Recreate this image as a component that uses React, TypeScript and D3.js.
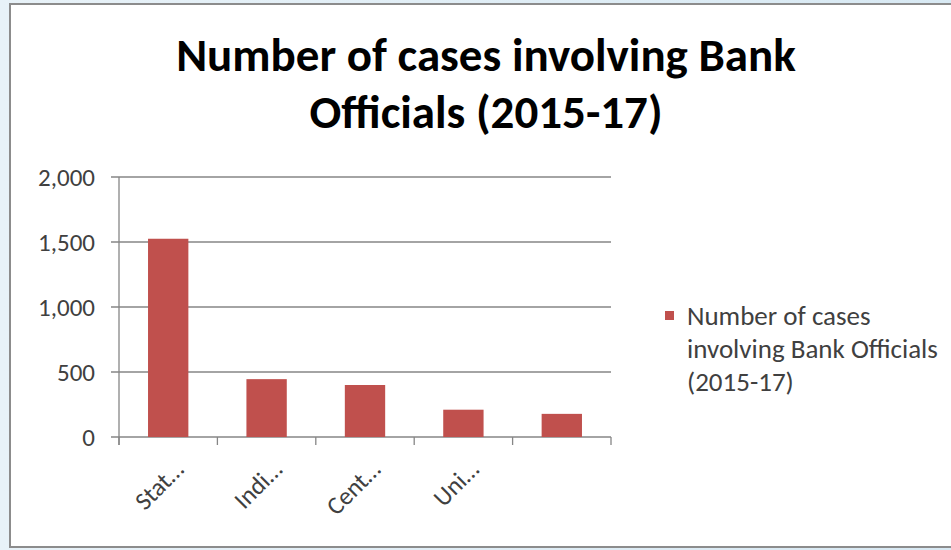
import React from "react";
import * as d3 from "d3";

const categories = ["Stat…", "Indi…", "Cent…", "Uni…", ""];
const values = [1525, 445, 400, 210, 178];
const yTicks = [0, 500, 1000, 1500, 2000];
const titleLines = ["Number of cases involving Bank", "Officials (2015-17)"];
const legendLines = ["Number of cases", "involving Bank Officials", "(2015-17)"];

const FONT = "Carlito, Lato, 'Open Sans', sans-serif";

export default function App() {
  const W = 951, H = 550;
  const x = d3.scaleBand<string>().domain(categories.map((c, i) => String(i))).range([119, 611]).paddingInner(0.59).paddingOuter(0.295);
  const y = d3.scaleLinear().domain([0, 2000]).range([437, 177]);
  const step = x.step();
  const fmt = d3.format(",");
  const axisColor = "#868686";
  return (
    <svg width={W} height={H} style={{ position: "absolute", left: 0, top: 0, display: "block" }}>
      <defs>
        <linearGradient id="bg" x1="0" x2="1" y1="0" y2="0">
          <stop offset="0" stopColor="#e8f2f8" />
          <stop offset="1" stopColor="#d8e9f3" />
        </linearGradient>
      </defs>
      <rect x={0} y={0} width={W} height={H} fill="url(#bg)" />
      <rect x={10} y={4} width={W + 10} height={543} fill="#ffffff" stroke="#8c8c8c" strokeWidth={2} />
      {titleLines.map((t, i) => (
        <text key={i} x={486} y={71 + i * 57} textAnchor="middle" fontFamily={FONT} fontWeight="bold" fontSize={47} fill="#000">
          {t}
        </text>
      ))}
      {yTicks.map((t) => (
        <g key={t}>
          <line x1={111} x2={611} y1={y(t)} y2={y(t)} stroke={axisColor} strokeWidth={1.3} />
          <text x={95} y={y(t)} dy="0.35em" textAnchor="end" fontFamily={FONT} fontSize={25} fill="#404040">
            {fmt(t)}
          </text>
        </g>
      ))}
      <line x1={119} x2={119} y1={y(2000)} y2={y(0) + 8} stroke={axisColor} strokeWidth={1.3} />
      {d3.range(categories.length + 1).map((i) => (
        <line key={i} x1={119 + i * step} x2={119 + i * step} y1={y(0)} y2={y(0) + 8} stroke={axisColor} strokeWidth={1.3} />
      ))}
      {values.map((v, i) => (
        <rect key={i} x={x(String(i))!} y={y(v)} width={x.bandwidth()} height={y(0) - y(v)} fill="#c0504d" />
      ))}
      {categories.map((c, i) => {
        const cx = x(String(i))! + x.bandwidth() / 2 + 17;
        const cy = 471;
        return (
          <text key={i} x={cx} y={cy} textAnchor="end" transform={`rotate(-45 ${cx} ${cy})`} fontFamily={FONT} fontSize={25} fill="#404040">
            {c}
          </text>
        );
      })}
      <rect x={665} y={311} width={9} height={9} fill="#c0504d" />
      {legendLines.map((t, i) => (
        <text key={i} x={687} y={325 + i * 33} fontFamily={FONT} fontSize={27} fill="#404040">
          {t}
        </text>
      ))}
    </svg>
  );
}
